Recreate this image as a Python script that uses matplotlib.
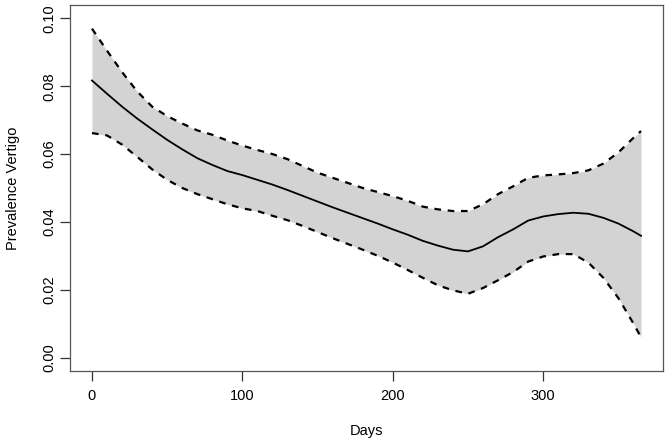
import matplotlib
matplotlib.use("Agg")
import matplotlib.pyplot as plt

days = [0, 10, 20, 30, 40, 50, 60, 70, 80, 90, 100, 110, 120, 130, 140, 150,
        160, 170, 180, 190, 200, 210, 220, 230, 240, 250, 260, 270, 280, 290,
        300, 310, 320, 330, 340, 350, 360, 365]

# Estimated prevalence (solid line)
prev = [0.0817, 0.0778, 0.0740, 0.0705, 0.0673, 0.0642, 0.0614, 0.0588,
        0.0568, 0.0550, 0.0538, 0.0524, 0.0510, 0.0494, 0.0477, 0.0460,
        0.0443, 0.0427, 0.0411, 0.0395, 0.0378, 0.0362, 0.0344, 0.0330,
        0.0318, 0.0313, 0.0328, 0.0355, 0.0378, 0.0404, 0.0416, 0.0423,
        0.0427, 0.0424, 0.0412, 0.0395, 0.0372, 0.0359]

# Upper and lower confidence limits (dashed)
upper = [0.0970, 0.0905, 0.0842, 0.0785, 0.0740, 0.0712, 0.0690, 0.0670,
         0.0657, 0.0640, 0.0625, 0.0612, 0.0600, 0.0585, 0.0565, 0.0545,
         0.0530, 0.0515, 0.0500, 0.0488, 0.0476, 0.0462, 0.0445, 0.0437,
         0.0432, 0.0432, 0.0452, 0.0482, 0.0505, 0.0530, 0.0537, 0.0540,
         0.0544, 0.0552, 0.0572, 0.0605, 0.0648, 0.0668]
lower = [0.0662, 0.0655, 0.0628, 0.0592, 0.0555, 0.0524, 0.0500, 0.0482,
         0.0467, 0.0452, 0.0440, 0.0432, 0.0418, 0.0405, 0.0388, 0.0370,
         0.0352, 0.0335, 0.0318, 0.0300, 0.0280, 0.0258, 0.0235, 0.0213,
         0.0198, 0.0188, 0.0205, 0.0228, 0.0252, 0.0283, 0.0298, 0.0305,
         0.0305, 0.0280, 0.0235, 0.0175, 0.0100, 0.0060]

x_ticks = [0, 100, 200, 300]
y_ticks = [0.00, 0.02, 0.04, 0.06, 0.08, 0.10]

plt.rcParams['font.family'] = ['Liberation Sans', 'DejaVu Sans']

fig = plt.figure(figsize=(6.7, 4.46), dpi=100)
ax = fig.add_axes([0.1045, 0.168, 0.885, 0.821])

ax.fill_between(days, lower, upper, color='#d3d3d3', linewidth=0)
ax.plot(days, prev, color='black', linewidth=1.3)
ax.plot(days, upper, color='black', linewidth=1.6, linestyle=(0, (3, 3)))
ax.plot(days, lower, color='black', linewidth=1.6, linestyle=(0, (3, 3)))

# R style: 4% padding on both axes
ax.set_xlim(-14.6, 379.6)
ax.set_ylim(-0.004, 0.104)

ax.set_xticks(x_ticks)
ax.set_xticklabels([str(t) for t in x_ticks])
ax.set_yticks(y_ticks)
ax.set_yticklabels(['%.2f' % t for t in y_ticks], rotation=90, va='center')

ax.tick_params(direction='out', length=7, width=0.9, color='#333333',
               labelsize=10.5, pad=6)
ax.tick_params(axis='y', pad=3)
for s in ax.spines.values():
    s.set_color('#555555')
    s.set_linewidth(0.9)

ax.set_xlabel('Days', fontsize=10.5, labelpad=15)
ax.set_ylabel('Prevalence Vertigo', fontsize=10.5, labelpad=16)

fig.savefig('out.png', dpi=100)
